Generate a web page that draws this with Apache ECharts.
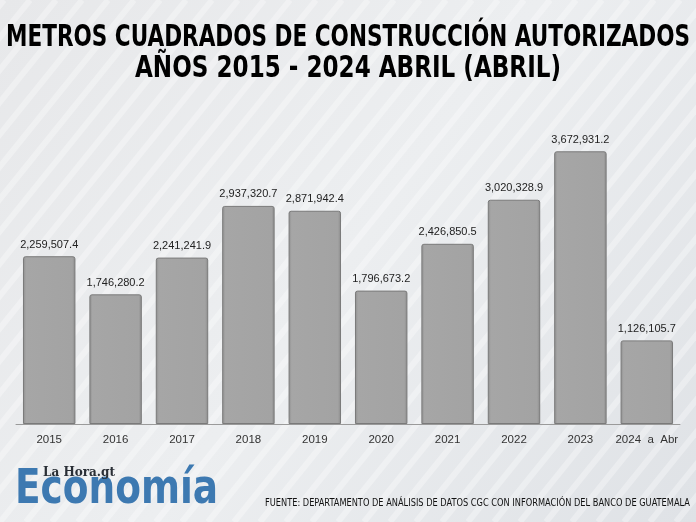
<!DOCTYPE html>
<html><head><meta charset="utf-8">
<script src="https://cdn.jsdelivr.net/npm/echarts@6/dist/echarts.min.js"></script>
<style>html,body{margin:0;padding:0;}#c{width:696px;height:522px;}</style>
</head><body><div id="c"></div>
<script>
const categories = ['2015','2016','2017','2018','2019','2020','2021','2022','2023','2024  a  Abr'];
const values = [2259507.4, 1746280.2, 2241241.9, 2937320.7, 2871942.4, 1796673.2, 2426850.5, 3020328.9, 3672931.2, 1126105.7];
const titleLines = ['METROS CUADRADOS DE CONSTRUCCIÓN AUTORIZADOS', 'AÑOS 2015 - 2024 ABRIL (ABRIL)'];
const sourceText = 'FUENTE: DEPARTAMENTO DE ANÁLISIS DE DATOS CGC CON INFORMACIÓN DEL BANCO DE GUATEMALA';

const chart = echarts.init(document.getElementById('c'));
const fmt = v => v.toLocaleString('en-US', {minimumFractionDigits: 1, maximumFractionDigits: 1});

const ctx = document.createElement('canvas').getContext('2d');
function fitScale(text, font, target) { ctx.font = font; return target / ctx.measureText(text).width; }

const titleFont = 'bold 30px "DejaVu Sans Condensed", "DejaVu Sans"';
const logoFont = 'bold 48px "DejaVu Sans Condensed", "DejaVu Sans"';
const srcFont = '11px "DejaVu Sans Condensed", "DejaVu Sans"';

const stripes = [];
for (let i = -20; i < 40; i++) {
  const x0 = i * 26;
  stripes.push({type: 'line', silent: true, z: -10,
    shape: {x1: x0, y1: 522, x2: x0 + 420, y2: 0},
    style: {stroke: 'rgba(255,255,255,0.32)', lineWidth: 6}});
}

chart.setOption({
  backgroundColor: {type: 'linear', x: 0, y: 0, x2: 1, y2: 1, colorStops: [
    {offset: 0, color: '#e7e8ea'}, {offset: 0.5, color: '#eceef0'}, {offset: 1, color: '#dfe2e6'}]},
  graphic: [
    ...stripes,
    {type: 'text', x: 348, y: 38, z: 10, scaleX: fitScale(titleLines[0], titleFont, 684),
      style: {text: titleLines[0], x: 0, y: 0, align: 'center', verticalAlign: 'middle', font: titleFont, fill: '#000'}},
    {type: 'text', x: 348, y: 69, z: 10, scaleX: fitScale(titleLines[1], titleFont, 426),
      style: {text: titleLines[1], x: 0, y: 0, align: 'center', verticalAlign: 'middle', font: titleFont, fill: '#000'}},
    {type: 'text', x: 15, y: 491, z: 9, scaleX: fitScale('Economía', logoFont, 203),
      style: {text: 'Economía', x: 0, y: 0, verticalAlign: 'middle', font: logoFont, fill: '#3d79b1'}},
    {type: 'text', x: 43, y: 473, z: 11,
      style: {text: 'La Hora.gt', x: 0, y: 0, verticalAlign: 'middle', font: 'bold 12px "DejaVu Serif", serif', fill: '#2a2f36'}},
    {type: 'text', x: 265, y: 503, z: 10, scaleX: fitScale(sourceText, srcFont, 425),
      style: {text: sourceText, x: 0, y: 0, verticalAlign: 'middle', font: srcFont, fill: '#111'}}
  ],
  grid: {left: 16, right: 16, top: 127, bottom: 98, containLabel: false},
  xAxis: {
    type: 'category', data: categories,
    axisLine: {lineStyle: {color: '#9a9a9a', width: 1}},
    axisTick: {show: false},
    axisLabel: {interval: 0, color: '#333', fontSize: 11.5, fontFamily: 'Liberation Sans', margin: 10}
  },
  yAxis: {type: 'value', min: 0, max: 4000000, show: false, splitLine: {show: false}},
  series: [{
    type: 'bar', data: values, barCategoryGap: '21%',
    itemStyle: {
      color: {type: 'linear', x: 0, y: 0, x2: 1, y2: 0, colorStops: [
        {offset: 0, color: '#8e8e8e'}, {offset: 0.06, color: '#a6a6a6'},
        {offset: 0.94, color: '#a3a3a3'}, {offset: 1, color: '#8a8a8a'}]},
      borderColor: '#7a7a7a', borderWidth: 1, borderRadius: [2, 2, 0, 0]
    },
    label: {show: true, position: 'top', distance: 6, color: '#222', fontSize: 11,
      fontFamily: 'Liberation Sans', formatter: p => fmt(p.value)}
  }]
});
</script></body></html>
